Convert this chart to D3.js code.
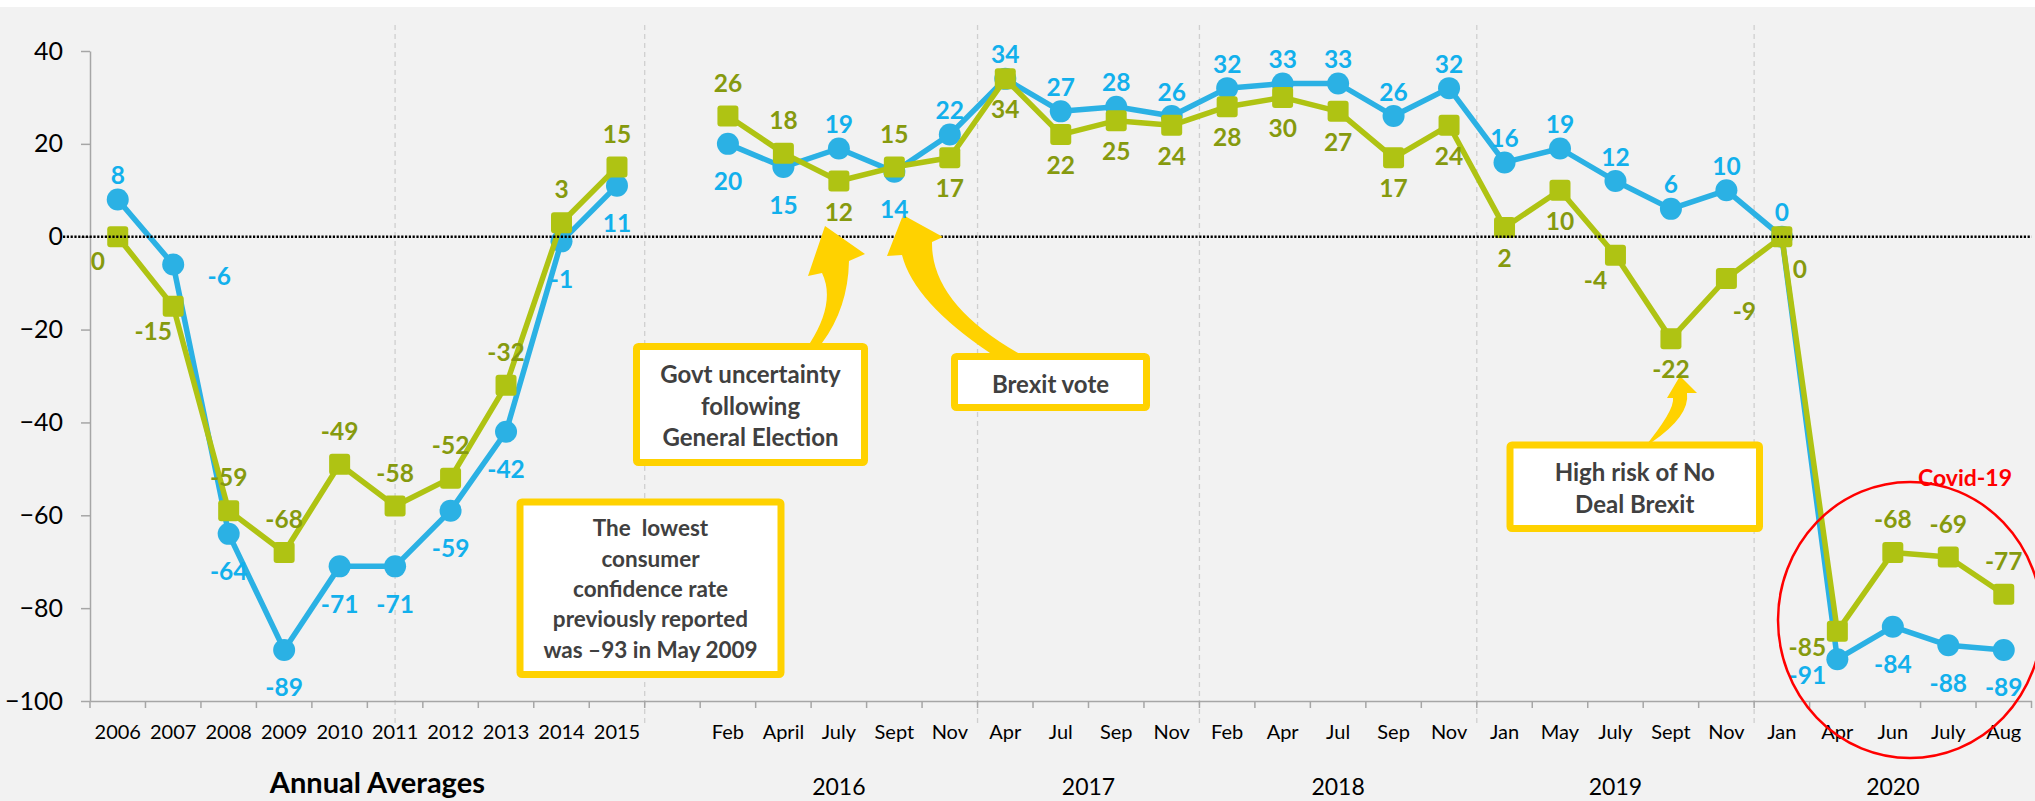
<!DOCTYPE html>
<html>
<head>
<meta charset="utf-8">
<script src="https://cdn.jsdelivr.net/npm/d3@7"></script>
<style>
  body { margin: 0; background: #fff; }
  svg { display: block; font-family: Lato, "Open Sans", sans-serif; }
</style>
</head>
<body>
<svg id="chart" width="2035" height="801"></svg>
<script>
// ---- chart values ----
const categories = ["2006", "2007", "2008", "2009", "2010", "2011", "2012", "2013", "2014", "2015", "",
  "Feb", "April", "July", "Sept", "Nov",
  "Apr", "Jul", "Sep", "Nov",
  "Feb", "Apr", "Jul", "Sep", "Nov",
  "Jan", "May", "July", "Sept", "Nov",
  "Jan", "Apr", "Jun", "July", "Aug"];

// blue line with round markers
const blueValues = [8, -6, -64, -89, -71, -71, -59, -42, -1, 11, null,
  20, 15, 19, 14, 22,
  34, 27, 28, 26,
  32, 33, 33, 26, 32,
  16, 19, 12, 6, 10,
  0, -91, -84, -88, -89];

// green line with square markers
const greenValues = [0, -15, -59, -68, -49, -58, -52, -32, 3, 15, null,
  26, 18, 12, 15, 17,
  34, 22, 25, 24,
  28, 30, 27, 17, 24,
  2, 10, -4, -22, -9,
  0, -85, -68, -69, -77];

// where each data label sits relative to its marker
const bluePlacement = ["a", "r", "b", "b", "b", "b", "b", "b", "b", "b", null,
  "b", "b", "a", "b", "a",
  "a", "a", "a", "a",
  "a", "a", "a", "a", "a",
  "a", "a", "a", "a", "a",
  "a", "l", "b", "b", "b"];
const greenPlacement = ["bl", "bl", "a", "a", "a", "a", "a", "a", "a", "a", null,
  "a", "a", "b", "a", "b",
  "b", "b", "b", "b",
  "b", "b", "b", "b", "b",
  "b", "b", "bl", "b", "br",
  "br", "l", "a", "a", "a"];

const yTicks = [-100, -80, -60, -40, -20, 0, 20, 40];
const yearLabels = ["2016", "2017", "2018", "2019", "2020"];
const yearFirst = [11, 16, 20, 25, 30];
const yearLast = [15, 19, 24, 29, 34];
const dividers = [5.5, 10, 16, 20, 25, 30];   // in category units

// ---- colours ----
const blueLine = "#2bb1e4", blueText = "#12b0ec";
const greenLine = "#afc313", greenText = "#869a0e";
const yellow = "#ffd200", boxText = "#404040";

const svg = d3.select("#chart");

const x = d3.scaleBand().domain(d3.range(categories.length)).range([90, 2031.5]);
const y = d3.scaleLinear().domain([-100, 40]).range([701, 51]);
const bw = x.bandwidth();
const cx = i => x(i) + bw / 2;

// background
svg.append("rect").attr("x", 0).attr("y", 7).attr("width", 2035).attr("height", 794).attr("fill", "#f2f2f2");

// dashed separators
svg.append("g").selectAll("line")
  .data(dividers)
  .join("line")
  .attr("x1", d => x.range()[0] + d * bw)
  .attr("x2", d => x.range()[0] + d * bw)
  .attr("y1", 25).attr("y2", 725)
  .attr("stroke", "#cfcfcf").attr("stroke-width", 1.3)
  .attr("stroke-dasharray", "5,4");

// y axis
const yAxis = svg.append("g")
  .attr("transform", "translate(90,0)")
  .call(d3.axisLeft(y).tickValues(yTicks).tickSize(9).tickSizeOuter(0).tickPadding(18));
yAxis.selectAll("path, line").attr("stroke", "#a6a6a6").attr("stroke-width", 1.5);
yAxis.selectAll("text").attr("font-size", 25).attr("fill", "#000").attr("font-family", "Lato");

// x axis: labels at band centres, ticks on band edges
const xAxis = svg.append("g")
  .attr("transform", "translate(0,701)")
  .call(d3.axisBottom(x).tickSize(0).tickPadding(24).tickFormat(i => categories[i]));
xAxis.select(".domain").attr("stroke", "#a6a6a6").attr("stroke-width", 1.5);
xAxis.selectAll("text").attr("font-size", 20).attr("fill", "#000").attr("font-family", "Lato");
xAxis.selectAll(".edge")
  .data(d3.range(categories.length + 1))
  .join("line")
  .attr("class", "edge")
  .attr("x1", i => x.range()[0] + i * bw)
  .attr("x2", i => x.range()[0] + i * bw)
  .attr("y1", 0).attr("y2", 7)
  .attr("stroke", "#a6a6a6").attr("stroke-width", 1.5);

// year group labels
svg.append("g").selectAll("text")
  .data(yearLabels)
  .join("text")
  .attr("x", (d, k) => (cx(yearFirst[k]) + cx(yearLast[k])) / 2)
  .attr("y", 795)
  .attr("text-anchor", "middle")
  .attr("font-size", 23)
  .text(d => d);

svg.append("text")
  .attr("x", (cx(0) + cx(9)) / 2 + 10)
  .attr("y", 793)
  .attr("text-anchor", "middle")
  .attr("font-size", 29)
  .attr("font-weight", 700)
  .text("Annual Averages");

// series lines
const lineGen = d3.line()
  .defined(d => d.v !== null)
  .x(d => cx(d.i))
  .y(d => y(d.v));

const blueData = blueValues.map((v, i) => ({ i, v }));
const greenData = greenValues.map((v, i) => ({ i, v }));

svg.append("path").datum(blueData)
  .attr("fill", "none").attr("stroke", blueLine).attr("stroke-width", 5.5)
  .attr("stroke-linejoin", "round")
  .attr("d", lineGen);

svg.append("g").selectAll("circle")
  .data(blueData.filter(d => d.v !== null))
  .join("circle")
  .attr("cx", d => cx(d.i)).attr("cy", d => y(d.v))
  .attr("r", 11).attr("fill", blueLine);

svg.append("path").datum(greenData)
  .attr("fill", "none").attr("stroke", greenLine).attr("stroke-width", 5.5)
  .attr("stroke-linejoin", "round")
  .attr("d", lineGen);

svg.append("g").selectAll("rect")
  .data(greenData.filter(d => d.v !== null))
  .join("rect")
  .attr("x", d => cx(d.i) - 10.5).attr("y", d => y(d.v) - 10.5)
  .attr("width", 21).attr("height", 21).attr("rx", 3)
  .attr("fill", greenLine);

// dotted zero line
svg.append("line")
  .attr("x1", 63).attr("x2", x.range()[1])
  .attr("y1", y(0)).attr("y2", y(0))
  .attr("stroke", "#000").attr("stroke-width", 2.6)
  .attr("stroke-dasharray", "2.2,1.6");

// ---- annotation arrows and boxes ----
const arrows = [
  "M810,343 Q836,302 822,273 L808,276 L825,226 L865,254 L849,261 Q848,308 822,343 Z",
  "M1018,353 Q931,303 932,242 L943,237 L903,215 L887,256 L902,255 Q914,302 990,353 Z",
  "M1643,449 Q1675,410 1673,398 L1667,398 L1680,376 L1697,393 L1687,393 Q1690,416 1652,442 Z"
];
svg.append("g").selectAll("path")
  .data(arrows)
  .join("path")
  .attr("d", d => d)
  .attr("fill", yellow);

const boxes = [
  { x: 636.5, y: 346.5, w: 228, h: 116, cy: 405, lh: 31.7, fs: 24, lines: ["Govt uncertainty", "following", "General Election"] },
  { x: 954.5, y: 356.5, w: 192, h: 51, cy: 383, lh: 31, fs: 24, lines: ["Brexit vote"] },
  { x: 520, y: 502, w: 261, h: 172.5, cy: 588.5, lh: 30.4, fs: 22.5, lines: ["The  lowest", "consumer", "confidence rate", "previously reported", "was \u201393 in May 2009"] },
  { x: 1510, y: 445, w: 249.5, h: 83.5, cy: 487.5, lh: 31.6, fs: 24, lines: ["High risk of No", "Deal Brexit"] }
];
const boxG = svg.append("g").selectAll("g").data(boxes).join("g");
boxG.append("rect")
  .attr("x", d => d.x).attr("y", d => d.y)
  .attr("width", d => d.w).attr("height", d => d.h)
  .attr("rx", 2)
  .attr("fill", "#fff").attr("stroke", yellow).attr("stroke-width", 7);
boxG.each(function (d) {
  const g = d3.select(this);
  const n = d.lines.length;
  d.lines.forEach((t, k) => {
    g.append("text")
      .attr("x", d.x + d.w / 2)
      .attr("y", d.cy + (k - (n - 1) / 2) * d.lh)
      .attr("text-anchor", "middle")
      .attr("dominant-baseline", "central")
      .attr("font-size", d.fs)
      .attr("font-weight", 700)
      .attr("fill", boxText)
      .style("white-space", "pre")
      .text(t);
  });
});

// ---- data labels ----
function offset(code, isBlue) {
  switch (code) {
    case "a": return [0, isBlue ? -25 : -34];
    case "b": return [0, isBlue ? 37 : 30];
    case "bl": return [-20, 24];
    case "br": return [18, 32];
    case "l": return [-30, 15];
    case "r": return [46, 11];
  }
  return [0, 0];
}

function drawLabels(data, placement, color, isBlue) {
  svg.append("g").selectAll("text")
    .data(data.filter(d => d.v !== null))
    .join("text")
    .attr("x", d => cx(d.i) + offset(placement[d.i], isBlue)[0])
    .attr("y", d => y(d.v) + offset(placement[d.i], isBlue)[1])
    .attr("text-anchor", "middle")
    .attr("dominant-baseline", "central")
    .attr("font-size", 24.5)
    .attr("font-weight", 700)
    .attr("fill", color)
    .text(d => d.v);
}
drawLabels(greenData, greenPlacement, greenText, false);
drawLabels(blueData, bluePlacement, blueText, true);

// covid ring
svg.append("ellipse")
  .attr("cx", 1910).attr("cy", 620)
  .attr("rx", 132).attr("ry", 138)
  .attr("fill", "none").attr("stroke", "#ff0000").attr("stroke-width", 2.5);
svg.append("text")
  .attr("x", 1965).attr("y", 477)
  .attr("text-anchor", "middle")
  .attr("dominant-baseline", "central")
  .attr("font-size", 23).attr("font-weight", 700)
  .attr("fill", "#ff0000")
  .text("Covid-19");
</script>
</body>
</html>
